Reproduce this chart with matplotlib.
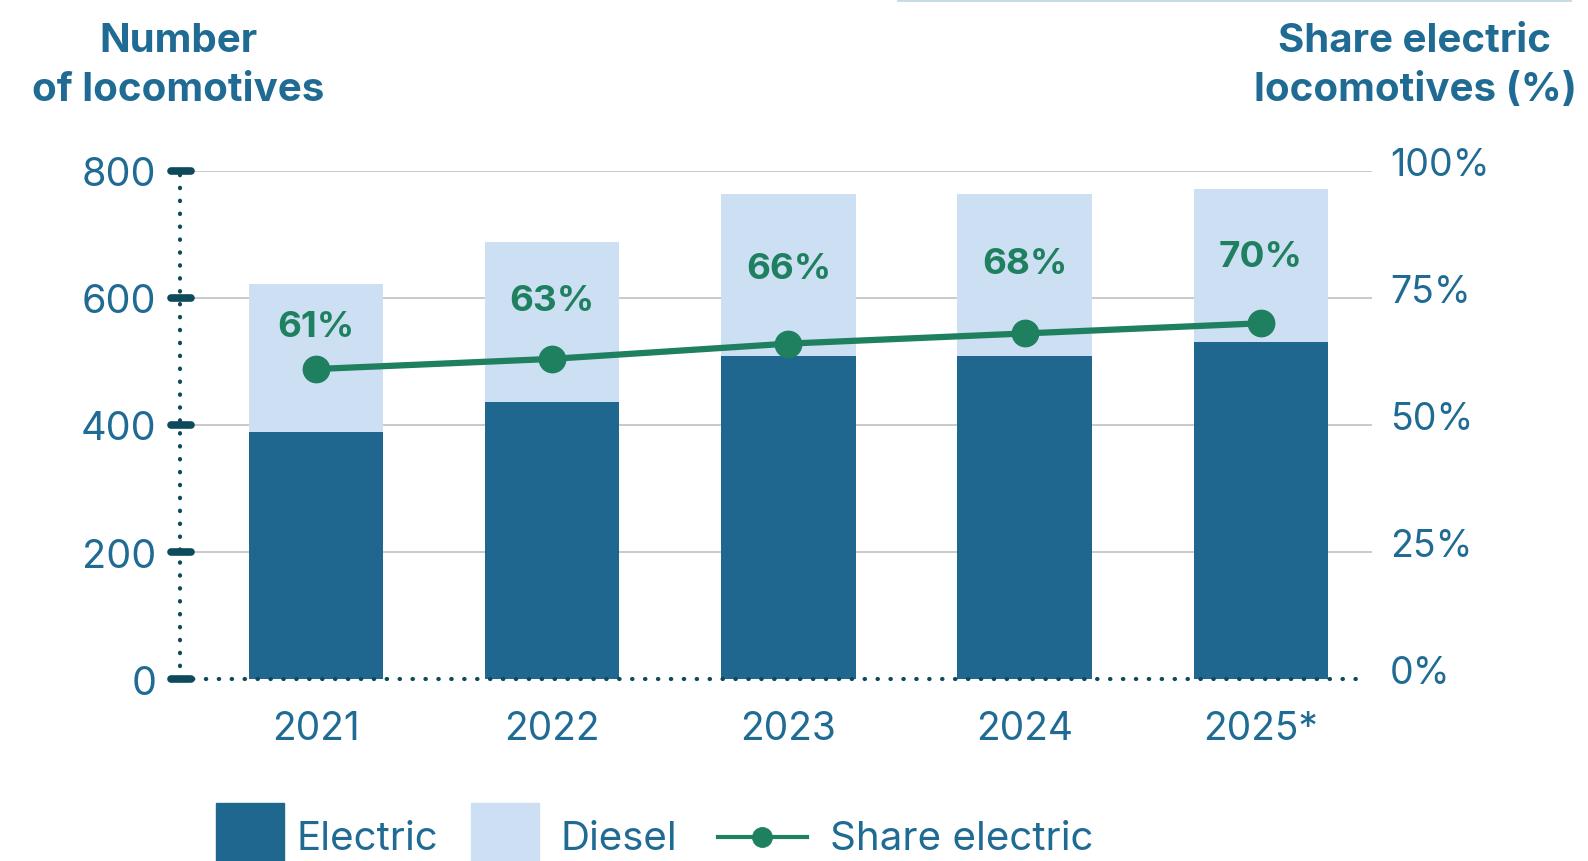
import numpy as np
import matplotlib
matplotlib.use("Agg")
import matplotlib.pyplot as plt
import matplotlib.transforms as transforms
from matplotlib.patches import Rectangle
from matplotlib.lines import Line2D

# data
years = ["2021", "2022", "2023", "2024", "2025*"]
electric = [389, 436, 509, 509, 531]
diesel = [233, 252, 254, 255, 240]
share = [61, 63, 66, 68, 70]

left_ticks = [0, 200, 400, 600, 800]
right_ticks = [0, 25, 50, 75, 100]

# colours
c_electric = "#1f678e"
c_diesel = "#cddff3"
c_green = "#1f8060"
c_text = "#1f6b93"
c_dark = "#0d4a5b"
c_grid = "#c0c0c0"

plt.rcParams["font.family"] = ["Inter", "DejaVu Sans"]

fig = plt.figure(figsize=(15.88, 8.62), dpi=100)
W, H = 1588, 862
ax = fig.add_axes([180 / W, 1 - 680.3 / H, (1372 - 180) / W, (680.3 - 171.7) / H])

x = np.arange(len(years))
bar_w = 0.57
ax.bar(x, electric, bar_w, color=c_electric, zorder=2)
ax.bar(x, diesel, bar_w, bottom=electric, color=c_diesel, zorder=2)

ax.set_xlim(-0.575, 4.47)
ax.set_ylim(0, 800)
ax.set_yticks(left_ticks)
ax.set_yticklabels([str(t) for t in left_ticks])
ax.set_xticks(x)
ax.set_xticklabels(years)
ax.tick_params(axis="y", length=0, pad=17, labelsize=28.5, labelcolor=c_text)
ax.tick_params(axis="x", length=0, pad=22, labelsize=28, labelcolor=c_text)
for s in ax.spines.values():
    s.set_visible(False)

# grid lines (not at zero)
for t in left_ticks[1:]:
    ax.axhline(t, color=c_grid, lw=1.2, zorder=1)

# dotted axes
ax.plot([0, 0], [0, 800], transform=ax.get_yaxis_transform(), color=c_dark,
        lw=3, ls=(0, (0.1, 3)), dash_capstyle="round", clip_on=False, zorder=3)
ax.plot([0, 0.994], [0, 0], transform=ax.get_yaxis_transform(), color=c_dark,
        lw=3, ls=(0, (0.1, 3)), dash_capstyle="round", clip_on=False, zorder=3)

# rounded tick marks on the left axis
ax_w = 1372 - 180
for t in left_ticks:
    ax.plot([-9 / ax_w, 11 / ax_w], [t, t], transform=ax.get_yaxis_transform(),
            color=c_dark, lw=5.5, solid_capstyle="round", clip_on=False, zorder=4)

# right axis for share
ax2 = ax.twinx()
ax2.set_ylim(0, 100)
ax2.set_yticks(right_ticks)
ax2.set_yticklabels([])
ax2.tick_params(axis="y", length=0)
for s in ax2.spines.values():
    s.set_visible(False)

# right tick labels, sitting a little above their grid lines
shift = transforms.ScaledTranslation(18 / 100, 6 / 100, fig.dpi_scale_trans)
for t in right_ticks:
    ax2.text(1, t, f"{t}%", transform=ax2.get_yaxis_transform() + shift,
             ha="left", va="center", fontsize=27, color=c_text)

ax2.plot(x, share, color=c_green, lw=4.5, marker="o", markersize=19, zorder=5)

# percentage labels between marker and bar top
for i in range(len(years)):
    top = (electric[i] + diesel[i]) / 8
    y_lab = (share[i] + top) / 2
    ax2.text(x[i], y_lab, f"{share[i]}%", ha="center", va="center",
             fontsize=26.5, fontweight="bold", color=c_green, zorder=6)

# axis titles
fig.text(178 / W, 1 - 66 / H, "Number\nof locomotives", ha="center", va="center",
         fontsize=29, fontweight="bold", color=c_text, linespacing=1.42)
fig.text(1415 / W, 1 - 66 / H, "Share electric\nlocomotives (%)", ha="center",
         va="center", fontsize=29, fontweight="bold", color=c_text, linespacing=1.42)

# thin line at the top right
fig.add_artist(Line2D([898 / W, 1570 / W], [1 - 1 / H, 1 - 1 / H], color="#c5d9e6", lw=2))

# legend drawn by hand
ly = 1 - 840 / H
fig.add_artist(Rectangle((216 / W, 0), 68 / W, (862 - 804) / H, color=c_electric,
                         transform=fig.transFigure))
fig.text(297 / W, ly, "Electric", ha="left", va="center", fontsize=29, color=c_text)
fig.add_artist(Rectangle((471 / W, 0), 68 / W, (862 - 804) / H, color=c_diesel,
                         transform=fig.transFigure))
fig.text(560 / W, ly, "Diesel", ha="left", va="center", fontsize=29, color=c_text)
fig.add_artist(Line2D([718 / W, 807 / W], [1 - 838 / H, 1 - 838 / H], color=c_green, lw=3))
fig.add_artist(Line2D([762 / W], [1 - 838 / H], color=c_green, marker="o", markersize=14))
fig.text(830 / W, ly, "Share electric", ha="left", va="center", fontsize=29, color=c_text)

fig.savefig("out.png", dpi=100)
